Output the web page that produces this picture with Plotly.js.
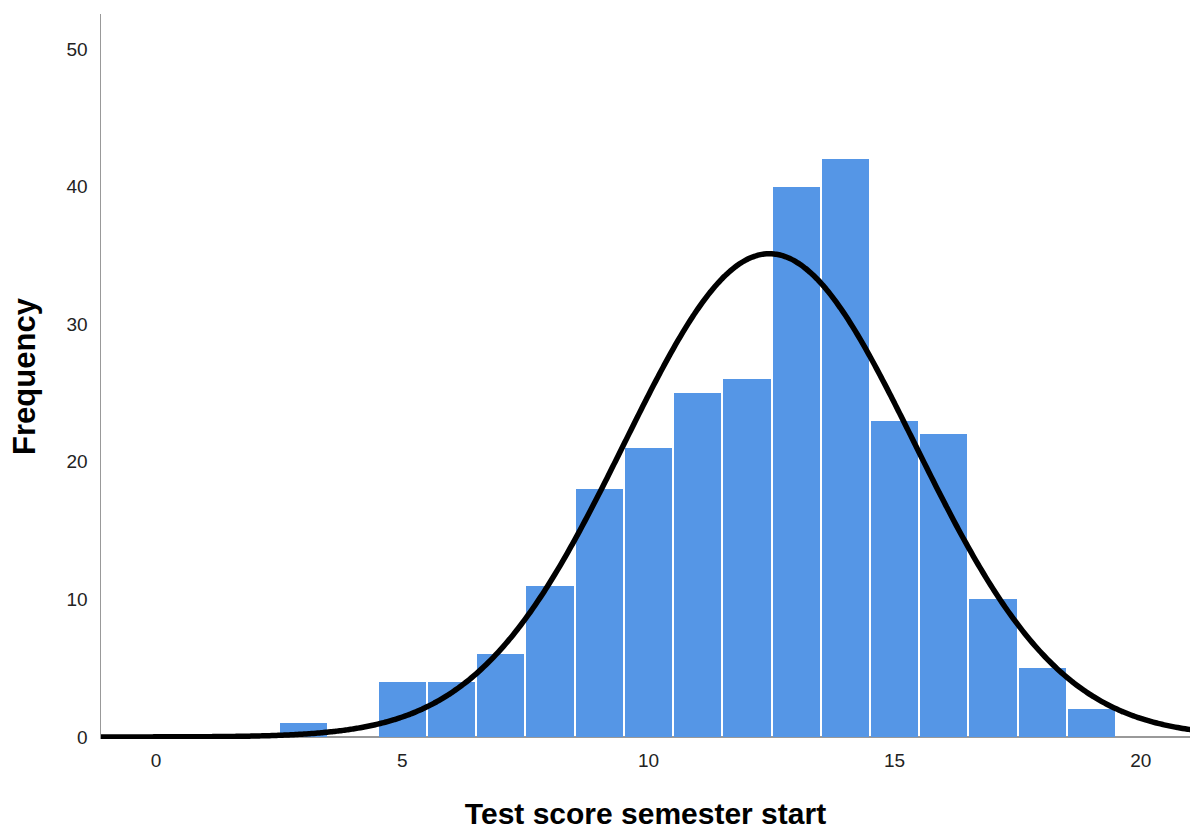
<!DOCTYPE html>
<html>
<head>
<meta charset="utf-8">
<script src="https://cdn.plot.ly/plotly-3.0.1.min.js"></script>
<style>html,body{margin:0;padding:0;background:#fff;}#chart{width:1190px;height:830px;}</style>
</head>
<body>
<div id="chart"></div>
<script>
// Histogram bins (score values) and their frequencies
const scoreBins = [3, 5, 6, 7, 8, 9, 10, 11, 12, 13, 14, 15, 16, 17, 18, 19];
const frequencies = [1, 4, 4, 6, 11, 18, 21, 25, 26, 40, 42, 23, 22, 10, 5, 2];
const xTickVals = [0, 5, 10, 15, 20];
const yTickVals = [0, 10, 20, 30, 40, 50];

// Fitted normal curve from the data (mean, sd, N)
const N = frequencies.reduce((a, b) => a + b, 0);
const mean = scoreBins.reduce((s, x, i) => s + x * frequencies[i], 0) / N;
const variance = scoreBins.reduce((s, x, i) => s + frequencies[i] * (x - mean) ** 2, 0) / (N - 1);
const sd = Math.sqrt(variance);
const binWidth = 1;
const curveX = [];
const curveY = [];
for (let x = -1.2; x <= 21.2; x += 0.05) {
  curveX.push(x);
  curveY.push(N * binWidth / (sd * Math.sqrt(2 * Math.PI)) * Math.exp(-0.5 * ((x - mean) / sd) ** 2));
}

const traces = [
  {
    type: 'bar',
    x: scoreBins,
    y: frequencies,
    width: 0.96,
    marker: { color: 'rgb(85,150,230)', line: { width: 0 } },
    hoverinfo: 'x+y'
  },
  {
    type: 'scatter',
    mode: 'lines',
    x: curveX,
    y: curveY,
    line: { color: '#000000', width: 5.5, shape: 'spline' },
    hoverinfo: 'skip'
  }
];

const layout = {
  width: 1190,
  height: 830,
  margin: { l: 101, r: 0, t: 14, b: 91 },
  paper_bgcolor: '#ffffff',
  plot_bgcolor: '#ffffff',
  showlegend: false,
  font: { family: 'Liberation Sans, Arial, sans-serif', color: '#222' },
  xaxis: {
    range: [-1.12, 21.0],
    tickvals: xTickVals,
    ticktext: xTickVals.map(String),
    showgrid: false,
    zeroline: false,
    showline: false,
    ticks: 'outside',
    ticklen: 4,
    tickcolor: 'rgba(0,0,0,0)',
    tickfont: { size: 19, color: '#222' },
    title: { text: 'Test score semester start', font: { size: 30, color: '#000', family: 'Liberation Sans, Arial, sans-serif', weight: 'bold' }, standoff: 34 },
    automargin: false
  },
  yaxis: {
    range: [-0.15, 52.55],
    tickvals: yTickVals,
    ticktext: yTickVals.map(String),
    showgrid: false,
    zeroline: true,
    zerolinecolor: '#999999',
    zerolinewidth: 1.5,
    showline: true,
    linecolor: '#999999',
    linewidth: 1.5,
    ticks: 'outside',
    ticklen: 8,
    tickcolor: 'rgba(0,0,0,0)',
    tickfont: { size: 19, color: '#222' },
    title: { text: 'Frequency', font: { size: 31, color: '#000', family: 'Liberation Sans, Arial, sans-serif', weight: 'bold' }, standoff: 21 },
    automargin: false
  },
  bargap: 0
};

Plotly.newPlot('chart', traces, layout, { displayModeBar: false, staticPlot: true });
</script>
</body>
</html>
